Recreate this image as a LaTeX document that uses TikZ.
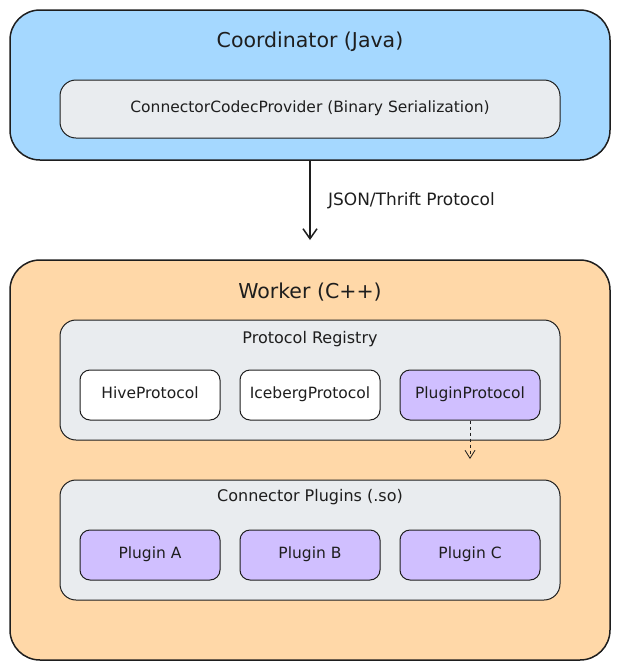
\documentclass[tikz,border=0pt]{standalone}
\usepackage{fontspec}
\setmainfont{DejaVu Sans}
\usetikzlibrary{arrows.meta}
\definecolor{ink}{HTML}{1E1E1E}
\definecolor{coordfill}{HTML}{A5D8FF}
\definecolor{workfill}{HTML}{FFD8A8}
\definecolor{greyfill}{HTML}{E9ECEF}
\definecolor{purplefill}{HTML}{D0BFFF}
\tikzset{
  outerbox/.style={draw=ink, line width=1.5pt, rounded corners=30pt},
  groupbox/.style={draw=ink, line width=1pt, fill=greyfill, rounded corners=16pt},
  itembox/.style={draw=ink, line width=1pt, rounded corners=10pt, minimum width=140pt, minimum height=50pt, text height=1.6ex, text depth=0.3ex, text=ink, font=\fontsize{15.5}{18}\selectfont},
  titletext/.style={font=\fontsize{20.5}{24}\selectfont, text=ink},
  subtitle/.style={font=\fontsize{16}{19}\selectfont, text=ink},
  labeltext/.style={font=\fontsize{17}{20}\selectfont, text=ink},
  flow/.style={draw=ink, line width=1.5pt, -{Straight Barb[length=10pt,width=14pt]}},
  dflow/.style={draw=ink, line width=0.8pt, dashed, -{Straight Barb[length=8pt,width=10pt]}},
}
\begin{document}
\begin{tikzpicture}[x=1pt,y=-1pt]
\useasboundingbox (0,0) rectangle (620,670);
% Coordinator
\node[outerbox, fill=coordfill, minimum width=600pt, minimum height=150pt, inner sep=0pt] (coord) at (310,85) {};
\node[titletext] (coordtitle) at (310,42) {Coordinator (Java)};
\node[groupbox, minimum width=500pt, minimum height=58pt, text height=1.6ex, text depth=0.3ex, font=\fontsize{15.5}{18}\selectfont, text=ink] (codec) at (310,109) {ConnectorCodecProvider (Binary Serialization)};
% Worker
\node[outerbox, fill=workfill, minimum width=600pt, minimum height=400pt, inner sep=0pt] (worker) at (310,460) {};
\node[titletext] (workertitle) at (310,292) {Worker (C++)};
% Protocol Registry
\node[groupbox, minimum width=500pt, minimum height=120pt, inner sep=0pt] (registry) at (310,380) {};
\node[subtitle] (regtitle) at (310,339) {Protocol Registry};
\node[itembox, fill=white] (hive) at (150,395) {HiveProtocol};
\node[itembox, fill=white] (iceberg) at (310,395) {IcebergProtocol};
\node[itembox, fill=purplefill] (pluginproto) at (470,395) {PluginProtocol};
% Connector Plugins
\node[groupbox, minimum width=500pt, minimum height=120pt, inner sep=0pt] (plugins) at (310,540) {};
\node[subtitle] (plugtitle) at (310,497) {Connector Plugins (.so)};
\node[itembox, fill=purplefill] (pa) at (150,555) {Plugin A};
\node[itembox, fill=purplefill] (pb) at (310,555) {Plugin B};
\node[itembox, fill=purplefill] (pc) at (470,555) {Plugin C};
% Connectors
\coordinate (arrowend) at (310,240);
\draw[flow] (coord.south) -- node[right=14pt, labeltext] {JSON/Thrift Protocol} (arrowend);
\coordinate (dashend) at (470,459);
\draw[dflow] (pluginproto.south) -- (dashend);
\end{tikzpicture}
\end{document}
